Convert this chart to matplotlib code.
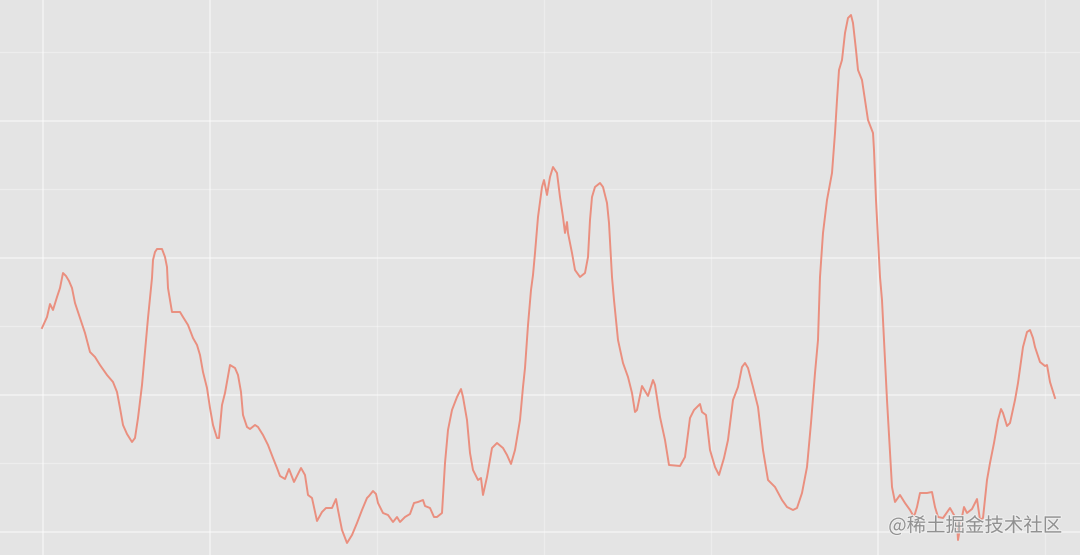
import matplotlib
matplotlib.use("Agg")
import matplotlib.pyplot as plt
import matplotlib.patheffects as pe

# time index (days) and series value
t = [0, 5, 8, 11, 15, 18, 21, 24, 27, 30, 33, 38, 43, 48, 53, 58, 65, 71, 75, 78,
     81, 85, 90, 93, 96, 100, 103, 106, 110, 111, 113, 115, 120, 123, 125, 126, 130, 133, 138, 141,
     146, 151, 155, 158, 161, 165, 168, 171, 175, 177, 180, 183, 188, 193, 196, 199, 201, 205, 208, 213,
     216, 221, 226, 231, 235, 238, 243, 247, 252, 259, 263, 266, 270, 275, 280, 284, 290, 294, 296, 300,
     305, 310, 315, 320, 325, 327, 331, 334, 336, 341, 346, 351, 355, 358, 363, 368, 372, 376, 381, 383,
     388, 392, 395, 400, 403, 406, 410, 415, 419, 421, 425, 428, 431, 436, 439, 441, 445, 450, 455, 461,
     465, 469, 473, 478, 481, 483, 486, 489, 491, 493, 496, 500, 502, 505, 508, 511, 515, 518, 521, 523,
     525, 526, 530, 533, 538, 543, 546, 548, 550, 553, 558, 561, 565, 567, 570, 572, 576, 581, 586, 590,
     593, 595, 600, 606, 611, 613, 618, 623, 627, 638, 643, 648, 652, 658, 660, 664, 668, 673, 677, 682,
     686, 691, 696, 700, 703, 706, 711, 716, 721, 726, 733, 740, 745, 751, 755, 760, 765, 769, 773, 776,
     778, 781, 785, 790, 793, 795, 797, 800, 803, 806, 809, 811, 814, 816, 820, 823, 826, 831, 832, 834,
     838, 840, 845, 850, 853, 858, 863, 868, 872, 875, 878, 885, 890, 893, 896, 901, 908, 912, 915, 916,
     919, 922, 925, 930, 935, 938, 941, 945, 948, 952, 956, 959, 961, 965, 968, 973, 976, 981, 985, 988,
     991, 993, 998, 1003, 1005, 1008, 1013]
value = [227, 238, 251, 245, 258, 267, 282, 279, 274, 267, 252, 237, 222, 203, 198, 190, 180, 173, 163, 147,
         130, 121, 113, 117, 137, 170, 203, 237, 277, 295, 303, 306, 306, 298, 288, 267, 243, 243, 243, 238,
         230, 217, 210, 200, 183, 167, 147, 130, 117, 117, 150, 162, 190, 187, 180, 163, 140, 128, 126, 130,
         128, 120, 110, 97, 87, 79, 76, 86, 73, 87, 80, 60, 57, 34, 43, 47, 47, 56, 45, 25,
         12, 20, 32, 45, 57, 59, 64, 61, 52, 42, 40, 33, 38, 33, 38, 41, 52, 53, 55, 49,
         47, 38, 38, 42, 92, 125, 145, 158, 166, 158, 135, 102, 85, 75, 77, 60, 78, 107, 112, 107,
         100, 91, 105, 135, 168, 187, 230, 265, 280, 302, 338, 368, 375, 360, 378, 388, 382, 358, 338, 322,
         333, 322, 302, 285, 278, 282, 298, 335, 358, 368, 372, 368, 352, 332, 278, 255, 215, 192, 178, 162,
         143, 145, 169, 159, 175, 170, 138, 115, 90, 89, 98, 137, 145, 151, 143, 140, 105, 88, 80, 97,
         115, 155, 168, 188, 192, 187, 168, 148, 105, 75, 68, 55, 48, 45, 47, 62, 88, 132, 182, 215,
         278, 322, 355, 382, 422, 455, 485, 495, 522, 537, 540, 532, 505, 485, 475, 455, 435, 422, 405, 355,
         278, 255, 155, 68, 53, 60, 52, 45, 38, 48, 62, 62, 63, 48, 38, 37, 47, 40, 32, 15,
         33, 48, 42, 46, 56, 35, 37, 75, 92, 112, 135, 146, 142, 129, 132, 155, 172, 208, 223, 225,
         217, 208, 193, 189, 190, 173, 157]

x_grid_major = [1, 168, 836]
x_grid_minor = [335, 502, 669, 1003]
y_grid_major = [434.5, 297.5, 160.5, 23.5]
y_grid_minor = [503, 366, 229, 92]

fig = plt.figure(figsize=(10.8, 5.55), dpi=100)
fig.patch.set_facecolor("#E4E4E4")
ax = fig.add_axes([0, 0, 1, 1])
ax.set_facecolor("#E4E4E4")
ax.set_xlim(-42, 1038)
ax.set_ylim(0, 555)

for gx in x_grid_major:
    ax.axvline(gx, color="white", lw=1.2, alpha=0.5, zorder=1)
for gx in x_grid_minor:
    ax.axvline(gx, color="white", lw=1.0, alpha=0.3, zorder=1)
for gy in y_grid_major:
    ax.axhline(gy, color="white", lw=1.2, alpha=0.5, zorder=1)
for gy in y_grid_minor:
    ax.axhline(gy, color="white", lw=1.0, alpha=0.35, zorder=1)

ax.plot(t, value, color="#EA8F7F", lw=1.4, zorder=3, solid_joinstyle="round")

for s in ax.spines.values():
    s.set_visible(False)
ax.set_xticks([])
ax.set_yticks([])

fig.text(0.984, 0.052, "@稀土掘金技术社区", ha="right", va="center",
         fontsize=14, color="#8c8c8c", alpha=0.95,
         family=["Noto Sans CJK SC", "DejaVu Sans"],
         path_effects=[pe.withStroke(linewidth=1.5, foreground="#f0f0f0")], zorder=5)

fig.savefig("out.png", dpi=100, facecolor=fig.get_facecolor())
